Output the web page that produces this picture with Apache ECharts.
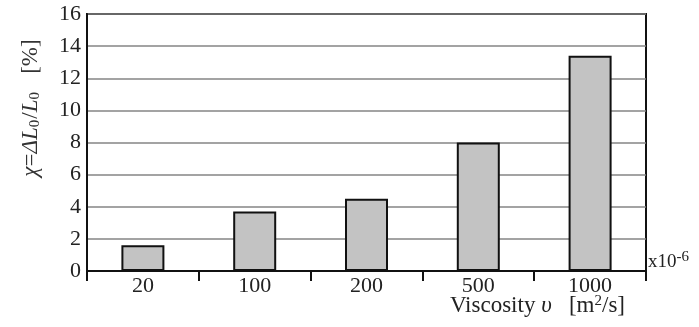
<!DOCTYPE html>
<html><head><meta charset="utf-8">
<script src="https://cdn.jsdelivr.net/npm/echarts@6/dist/echarts.min.js"></script>
<style>html,body{margin:0;padding:0;background:#fff}#c{width:699px;height:327px}</style>
</head><body><div id="c"></div>
<script>
const categories = ['20', '100', '200', '500', '1000'];
const values = [1.6, 3.7, 4.5, 8.0, 13.4];
const yTicks = [0, 2, 4, 6, 8, 10, 12, 14, 16];

const FONT = 'Liberation Serif';
const chart = echarts.init(document.getElementById('c'));
chart.setOption({
  animation: false,
  grid: { left: 87, right: 53, top: 14, bottom: 56, show: true, borderColor: '#111', borderWidth: 2, backgroundColor: 'transparent' },
  xAxis: {
    type: 'category', data: categories,
    axisLine: { lineStyle: { color: '#111', width: 2 } },
    axisTick: { show: true, length: 10, lineStyle: { color: '#111', width: 2 } },
    axisLabel: { color: '#222', fontFamily: FONT, fontSize: 22, margin: 4 }
  },
  yAxis: {
    type: 'value', min: yTicks[0], max: yTicks[yTicks.length - 1], interval: 2,
    axisLine: { show: true, lineStyle: { color: '#111', width: 2 } },
    axisTick: { show: false },
    axisLabel: { color: '#222', fontFamily: FONT, fontSize: 22, margin: 6 },
    splitLine: { lineStyle: { color: '#858585', width: 1.5 } }
  },
  series: [{
    type: 'bar', data: values, barWidth: 43,
    itemStyle: { color: '#c3c3c3', borderColor: '#111', borderWidth: 2 }
  }],
  graphic: [
    {
      type: 'text', x: 31, y: 108, rotation: Math.PI / 2,
      style: {
        text: '{i|χ}={i|ΔL}{s|0}/{i|L}{s|0}   [%]',
        fontFamily: FONT, fontSize: 23, fill: '#333', align: 'center', verticalAlign: 'middle',
        rich: {
          i: { fontFamily: FONT, fontStyle: 'italic', fontSize: 23, fill: '#333' },
          s: { fontFamily: FONT, fontSize: 15, fill: '#333', padding: [9, 1, 0, 0] }
        }
      }
    },
    {
      type: 'text', x: 625, y: 306,
      style: {
        text: 'Viscosity {i|υ}   [m{s|2}/s]',
        fontFamily: FONT, fontSize: 23, fill: '#222', align: 'right', verticalAlign: 'middle',
        rich: {
          i: { fontFamily: FONT, fontStyle: 'italic', fontSize: 23, fill: '#222' },
          s: { fontFamily: FONT, fontSize: 15, fill: '#222', padding: [0, 0, 10, 0] }
        }
      }
    },
    {
      type: 'text', x: 648, y: 262,
      style: {
        text: 'x10{s|-6}', fontFamily: FONT, fontSize: 19, fill: '#222', align: 'left', verticalAlign: 'middle',
        rich: { s: { fontFamily: FONT, fontSize: 15, fill: '#222', padding: [0, 0, 10, 0] } }
      }
    }
  ]
});
</script></body></html>
